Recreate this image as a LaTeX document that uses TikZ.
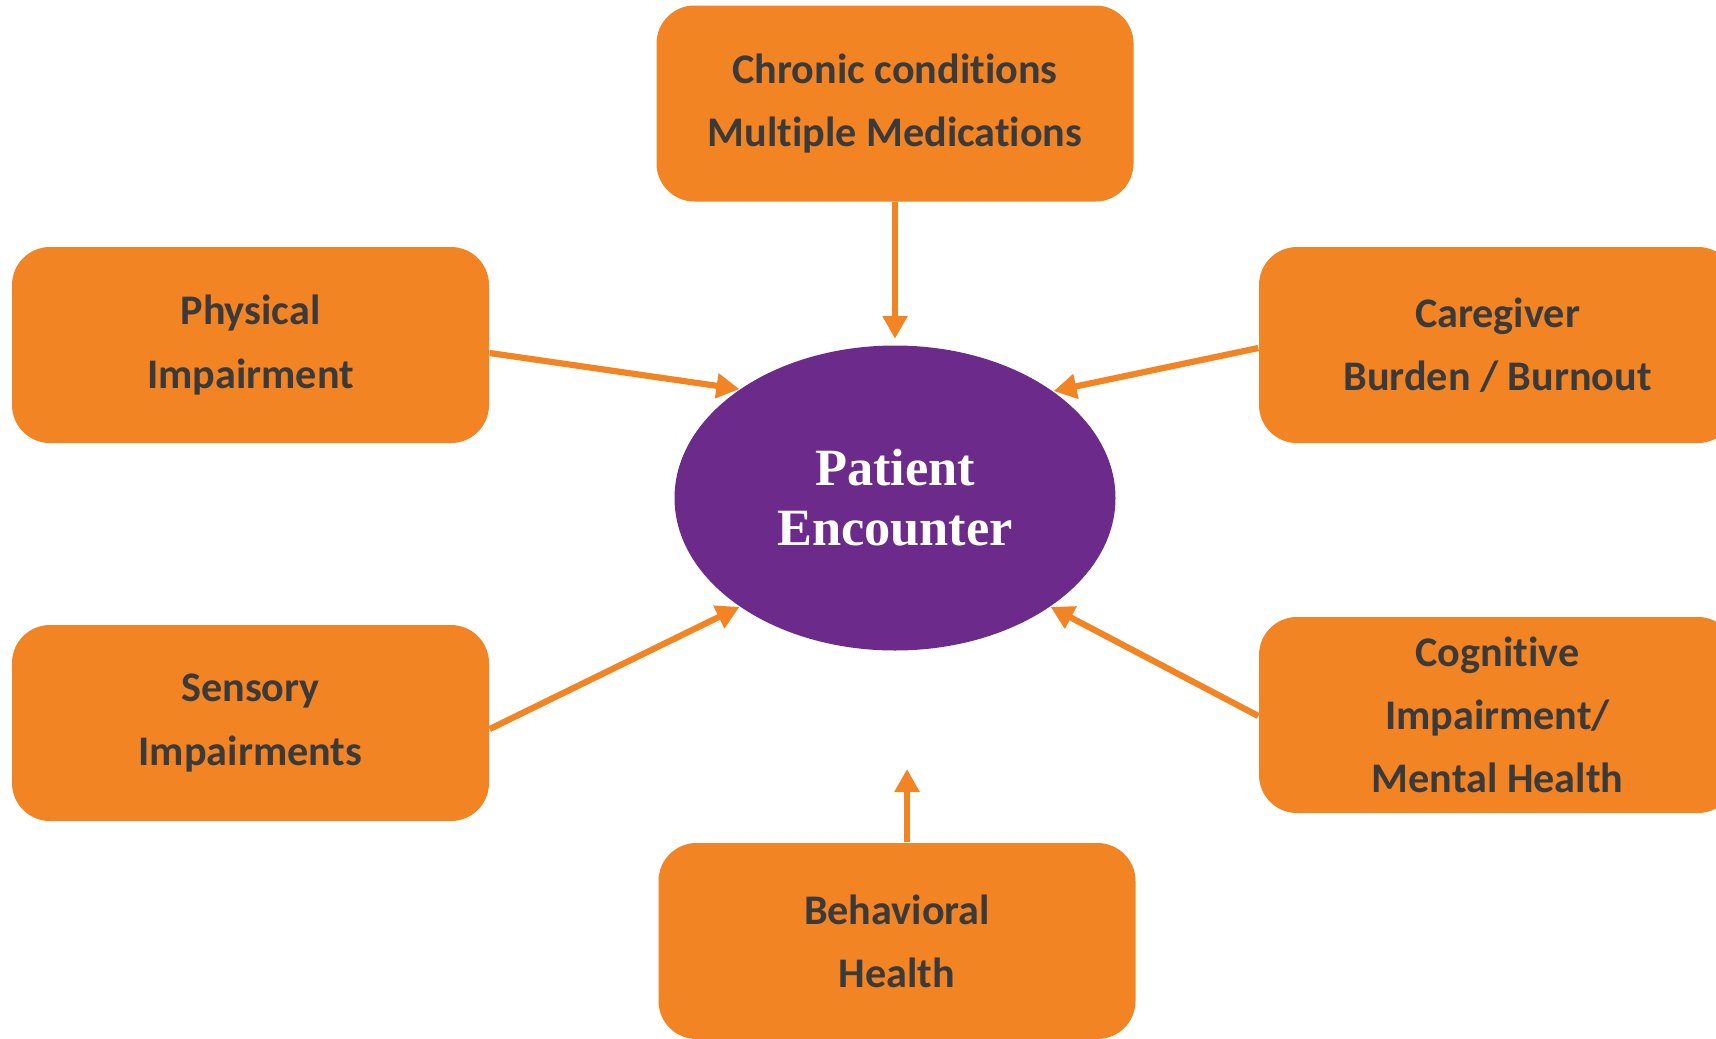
\documentclass[tikz,border=0pt]{standalone}
\usepackage{fontspec}
\setmainfont{Carlito}[Ligatures={NoCommon}]
\newfontfamily\hubfont{Liberation Serif}
\usepackage{tikz}
\usetikzlibrary{shapes.geometric,arrows.meta}

\definecolor{boxorange}{RGB}{243,132,35}
\definecolor{hubpurple}{RGB}{108,42,139}
\definecolor{boxtext}{RGB}{58,58,58}

\begin{document}
\begin{tikzpicture}[
    x=0.1mm, y=-0.1mm,
    box/.style={rectangle, fill=boxorange, rounded corners=3.8mm, align=center, minimum height=19.6mm, minimum width=47.7mm, inner sep=0pt, text=boxtext, font=\bfseries\fontsize{12}{18}\selectfont},
    hub/.style={ellipse, fill=hubpurple, align=center, minimum width=44.1mm, minimum height=30.5mm, inner sep=0pt, text=white, font=\hubfont\bfseries\fontsize{14.9}{17}\selectfont},
    arr/.style={-{Triangle[length=2.3mm, width=2.4mm]}, line width=0.62mm, draw=boxorange}
]
    \clip (0,0) rectangle (1716,1038);

    \node [hub] (pe) at (895,498) {Patient\\Encounter};

    \node [box] (n1) at (895,103.5) {Chronic conditions\\Multiple Medications};
    \node [box] (n2) at (250.5,345) {Physical\\Impairment};
    \node [box] (n3) at (1497.5,345) {Caregiver\\Burden / Burnout};
    \node [box] (n4) at (250.5,723) {Sensory\\Impairments};
    \node [box] (n5) at (1497.5,715) {Cognitive\\Impairment/\\Mental Health};
    \node [box] (n6) at (897,941) {Behavioral\\Health};

    % inputs pointing at the encounter
    \draw [arr, shorten >=0.6mm] (n1) -- (pe);
    \draw [arr] ([yshift=-0.8mm]n2.east) -- (pe.145);
    \draw [arr] ([yshift=-0.3mm]n3.west) -- (pe.34);
    \draw [arr] ([yshift=-0.6mm]n4.east) -- (pe.215);
    \draw [arr] ([yshift=-0.1mm]n5.west) -- (pe.325);
    \coordinate (bh) at (907,769);
    \draw [arr] (n6.north -| bh) -- (bh);
\end{tikzpicture}
\end{document}
